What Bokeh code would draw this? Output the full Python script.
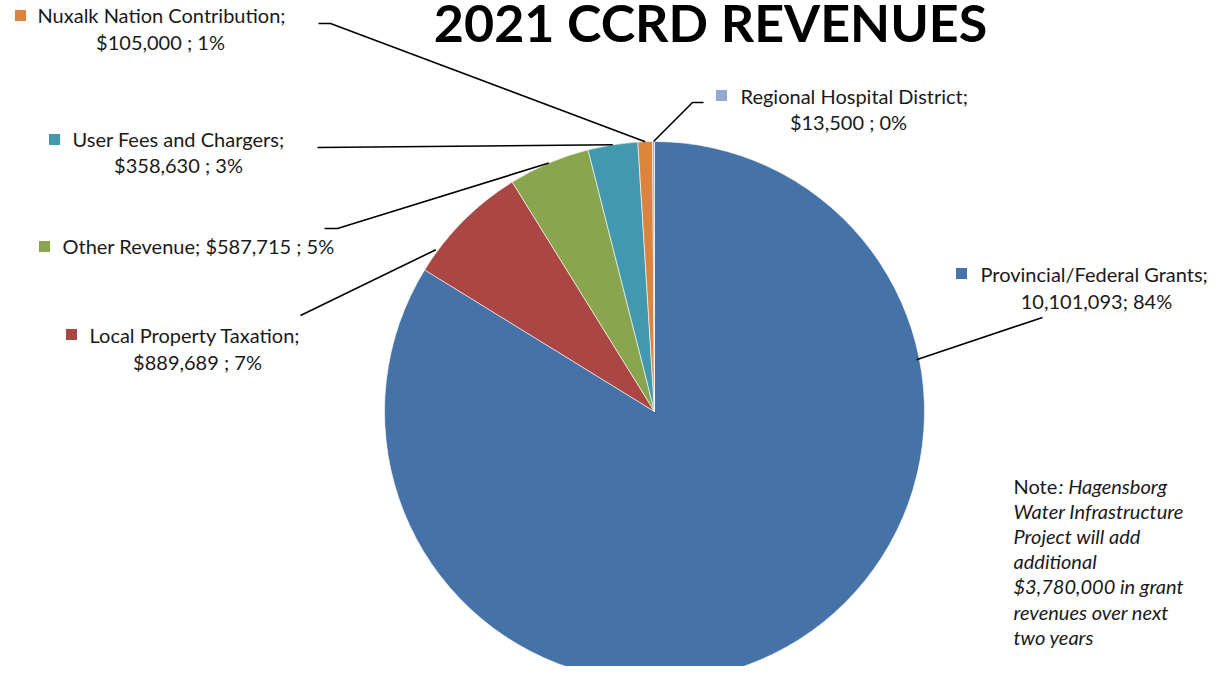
import math
from bokeh.plotting import figure
from bokeh.models import Range1d, ColumnDataSource
from bokeh.embed import file_html
from bokeh.resources import INLINE
from bokeh.core.properties import value

# ---------------- data ----------------
categories = ["Provincial/Federal Grants", "Local Property Taxation", "Other Revenue",
              "User Fees and Chargers", "Nuxalk Nation Contribution", "Regional Hospital District"]
values = [10101093, 889689, 587715, 358630, 105000, 13500]
value_texts = ["10,101,093;", "$889,689 ;", "$587,715 ;", "$358,630 ;", "$105,000 ;", "$13,500 ;"]
colors = ["#4572A7", "#AA4643", "#89A54E", "#4198AF", "#DB843D", "#93A9CF"]
title_text = "2021 CCRD REVENUES"
note_first_regular = "Note"
note_first_italic = ": Hagensborg"
note_lines = ["Water Infrastructure", "Project will add", "additional",
              "$3,780,000 in grant", "revenues over next", "two years"]

# ---------------- layout (picture pixel coords, y downward) ----------------
W, H = 1211, 666
FONT = "Lato"
FS = "20px"


def Y(y):
    return 682 - y


CX, CY, R = 654, 411, 270

fig = figure(width=W, height=H, output_backend="svg", toolbar_location=None,
             x_range=Range1d(0, W), y_range=Range1d(Y(H), Y(0)),
             min_border=0, outline_line_color=None, background_fill_color="white")
fig.axis.visible = False
fig.grid.visible = False

total = float(sum(values))
pcts = [round(v / total * 100) for v in values]

# wedges, clockwise from 12 o'clock
starts, ends = [], []
cum = 0.0
for v in values:
    starts.append(math.pi / 2 - cum / total * 2 * math.pi)
    cum += v
    ends.append(math.pi / 2 - cum / total * 2 * math.pi)

src = ColumnDataSource(dict(x=[CX] * len(values), y=[Y(CY)] * len(values),
                            start=starts, end=ends, color=colors))
fig.wedge(x="x", y="y", radius=R, start_angle="start", end_angle="end",
          direction="clock", fill_color="color", line_color="white", line_width=0.6,
          source=src)

# label layout per category
key_pos = [(961, 273), (71, 334), (44, 246), (54, 139), (20, 15), (721, 95)]
line1_pos = [(980, 273), (89, 334), (62, 245), (72, 138), (37, 14), (740, 95)]
line2_pos = [(1096, 300), (197, 361), None, (178, 164), (160, 41), (848, 121)]

# leader lines: outer points + anchor angle (deg) / radius on the pie
leader_outer = [[(1042, 317)], [(300, 315)], [(324, 228), (337, 228)], [(317, 147)],
                [(318, 23), (330, 23)], [(703, 102), (692, 102)]]
leader_angle = [11.2, 143.5, None, None, None, None]
leader_r = [267, 272, R, R, R, R]

for i in range(len(values)):
    if leader_angle[i] is None:
        a = (starts[i] + ends[i]) / 2
    else:
        a = math.radians(leader_angle[i])
    ax = CX + leader_r[i] * math.cos(a)
    ay = Y(CY) + leader_r[i] * math.sin(a)
    xs = [p[0] for p in leader_outer[i]] + [ax]
    ys = [Y(p[1]) for p in leader_outer[i]] + [ay]
    fig.line(xs, ys, line_color="black", line_width=1.6)

# key squares
fig.scatter([k[0] for k in key_pos], [Y(k[1]) for k in key_pos], marker="square",
            size=11, fill_color=colors, line_color=None)

for i, cat in enumerate(categories):
    l2 = f"{value_texts[i]} {pcts[i]}%"
    if line2_pos[i] is None:
        t1 = f"{cat}; {l2}"
    else:
        t1 = f"{cat};"
    fig.text([line1_pos[i][0]], [Y(line1_pos[i][1])], text=[t1], text_font=value(FONT),
             text_font_size=FS, text_color="#1a1a1a", text_align="left",
             text_baseline="middle")
    if line2_pos[i] is not None:
        fig.text([line2_pos[i][0]], [Y(line2_pos[i][1])], text=[l2], text_font=value(FONT),
                 text_font_size=FS, text_color="#1a1a1a", text_align="center",
                 text_baseline="middle")

# title
fig.text([710], [Y(21)], text=[title_text], text_font=value(FONT), text_font_style="bold",
         text_font_size="52px", text_color="black", text_align="center",
         text_baseline="middle")

# note
NX, NY0, NDY = 1013, 485, 25.2
fig.text([NX], [Y(NY0)], text=[note_first_regular], text_font=value(FONT),
         text_font_size=FS, text_color="#1a1a1a", text_align="left", text_baseline="middle")
fig.text([NX + 45], [Y(NY0)], text=[note_first_italic], text_font=value(FONT),
         text_font_style="italic", text_font_size=FS, text_color="#1a1a1a",
         text_align="left", text_baseline="middle")
fig.text([NX] * len(note_lines), [Y(NY0 + NDY * (k + 1)) for k in range(len(note_lines))],
         text=note_lines, text_font=value(FONT), text_font_style="italic",
         text_font_size=FS, text_color="#1a1a1a", text_align="left", text_baseline="middle")

open("out.html", "w").write(file_html(fig, INLINE))
